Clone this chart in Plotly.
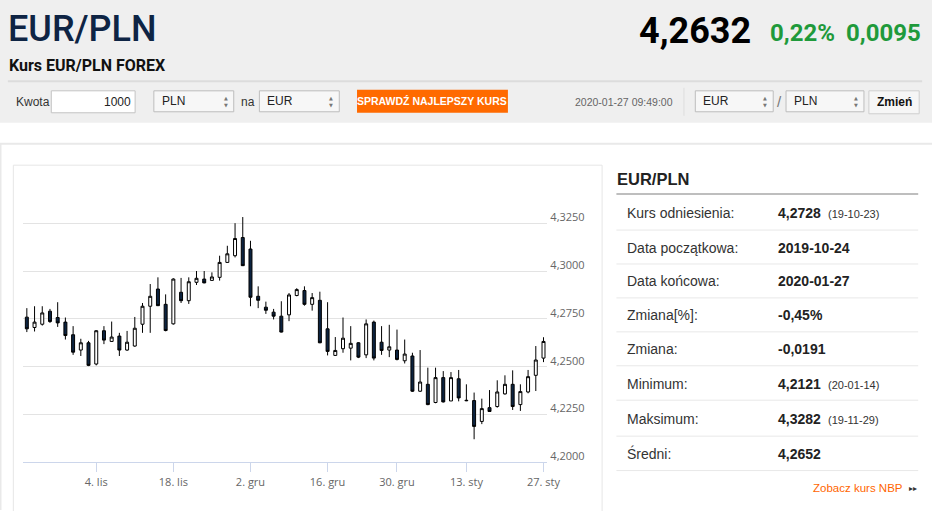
import plotly.graph_objects as go

W, H = 945, 511

# trading days shown on the chart
dates = [
    '2019-10-22', '2019-10-23', '2019-10-24', '2019-10-25', '2019-10-28', '2019-10-29',
    '2019-10-30', '2019-10-31', '2019-11-01',
    '2019-11-04', '2019-11-05', '2019-11-06', '2019-11-07', '2019-11-08', '2019-11-11',
    '2019-11-12', '2019-11-13', '2019-11-14', '2019-11-15', '2019-11-18', '2019-11-19',
    '2019-11-20', '2019-11-21', '2019-11-22', '2019-11-25', '2019-11-26', '2019-11-27',
    '2019-11-28', '2019-11-29',
    '2019-12-02', '2019-12-03', '2019-12-04', '2019-12-05', '2019-12-06', '2019-12-09',
    '2019-12-10', '2019-12-11', '2019-12-12', '2019-12-13', '2019-12-16', '2019-12-17',
    '2019-12-18', '2019-12-19', '2019-12-20', '2019-12-23', '2019-12-24', '2019-12-26',
    '2019-12-27', '2019-12-30', '2019-12-31',
    '2020-01-02', '2020-01-03', '2020-01-06', '2020-01-07', '2020-01-08', '2020-01-09',
    '2020-01-10', '2020-01-13', '2020-01-14', '2020-01-15', '2020-01-16', '2020-01-17',
    '2020-01-20', '2020-01-21', '2020-01-22', '2020-01-23', '2020-01-24', '2020-01-27',
]

opens = [
    4.2759, 4.2705, 4.2722, 4.2790, 4.2757, 4.2733, 4.2667, 4.2587, 4.2625, 4.2514,
    4.2688, 4.2632, 4.2660, 4.2587, 4.2608, 4.2722, 4.2816, 4.2906, 4.2826, 4.2724,
    4.2889, 4.2845, 4.2941, 4.2958, 4.2951, 4.2967, 4.3045, 4.3080, 4.3175, 4.3115,
    4.2868, 4.2811, 4.2785, 4.2764, 4.2771, 4.2872, 4.2898, 4.2826, 4.2847, 4.2698,
    4.2559, 4.2594, 4.2597, 4.2625, 4.2562, 4.2733, 4.2628, 4.2587, 4.2587, 4.2531,
    4.2556, 4.2372, 4.2408, 4.2313, 4.2443, 4.2321, 4.2437, 4.2322, 4.2323, 4.2214,
    4.2286, 4.2292, 4.2358, 4.2408, 4.2302, 4.2368, 4.2455, 4.2545,
]
highs = [
    4.2806, 4.2816, 4.2816, 4.2802, 4.2837, 4.2757, 4.2712, 4.2646, 4.2635, 4.2691,
    4.2712, 4.2736, 4.2677, 4.2687, 4.2760, 4.2833, 4.2932, 4.2967, 4.2878, 4.2962,
    4.2964, 4.2967, 4.3000, 4.3000, 4.2993, 4.3080, 4.3132, 4.3250, 4.3282, 4.3158,
    4.2920, 4.2840, 4.2802, 4.2842, 4.2885, 4.2910, 4.2920, 4.2885, 4.2892, 4.2837,
    4.2655, 4.2757, 4.2712, 4.2628, 4.2747, 4.2741, 4.2712, 4.2719, 4.2694, 4.2642,
    4.2573, 4.2587, 4.2495, 4.2495, 4.2477, 4.2472, 4.2483, 4.2408, 4.2365, 4.2333,
    4.2378, 4.2429, 4.2455, 4.2481, 4.2408, 4.2483, 4.2608, 4.2654,
]
lows = [
    4.2681, 4.2684, 4.2715, 4.2729, 4.2708, 4.2642, 4.2562, 4.2556, 4.2503, 4.2507,
    4.2618, 4.2630, 4.2556, 4.2583, 4.2604, 4.2677, 4.2677, 4.2817, 4.2685, 4.2720,
    4.2833, 4.2828, 4.2927, 4.2936, 4.2950, 4.2950, 4.3042, 4.3071, 4.3026, 4.2816,
    4.2806, 4.2776, 4.2747, 4.2679, 4.2738, 4.2868, 4.2819, 4.2793, 4.2623, 4.2559,
    4.2556, 4.2573, 4.2533, 4.2545, 4.2545, 4.2533, 4.2562, 4.2550, 4.2533, 4.2517,
    4.2368, 4.2368, 4.2299, 4.2309, 4.2313, 4.2321, 4.2319, 4.2320, 4.2121, 4.2200,
    4.2264, 4.2286, 4.2354, 4.2274, 4.2269, 4.2361, 4.2373, 4.2524,
]
closes = [
    4.2698, 4.2733, 4.2781, 4.2736, 4.2729, 4.2663, 4.2576, 4.2625, 4.2507, 4.2688,
    4.2639, 4.2655, 4.2587, 4.2628, 4.2701, 4.2816, 4.2868, 4.2819, 4.2689, 4.2958,
    4.2845, 4.2944, 4.2962, 4.2938, 4.2969, 4.3045, 4.3090, 4.3170, 4.3028, 4.2863,
    4.2847, 4.2795, 4.2764, 4.2681, 4.2875, 4.2903, 4.2826, 4.2861, 4.2625, 4.2580,
    4.2585, 4.2649, 4.2622, 4.2550, 4.2724, 4.2545, 4.2585, 4.2604, 4.2538, 4.2566,
    4.2372, 4.2420, 4.2302, 4.2443, 4.2316, 4.2443, 4.2337, 4.2324, 4.2188, 4.2281,
    4.2266, 4.2368, 4.2408, 4.2292, 4.2370, 4.2448, 4.2535, 4.2632,
]

tick_dates = ['2019-11-04', '2019-11-18', '2019-12-02', '2019-12-16',
              '2019-12-30', '2020-01-13', '2020-01-27']
tick_labels = ['4. lis', '18. lis', '2. gru', '16. gru', '30. gru', '13. sty', '27. sty']
price_ticks = [4.2, 4.225, 4.25, 4.275, 4.3, 4.325, 4.35]
price_labels = ['4,2000', '4,2250', '4,2500', '4,2750', '4,3000', '4,3250', '']

stat_labels = ['Kurs odniesienia:', 'Data początkowa:', 'Data końcowa:', 'Zmiana[%]:',
               'Zmiana:', 'Minimum:', 'Maksimum:', 'Średni:']
stat_values = ['4,2728', '2019-10-24', '2020-01-27', '-0,45%',
               '-0,0191', '4,2121', '4,3282', '4,2652']
stat_notes = ['(19-10-23)', '', '', '', '', '(20-01-14)', '(19-11-29)', '']


def px(x):
    return x / W


def py(y):
    return 1 - y / H


shapes = []
annotations = []


def rect(x0, y0, x1, y1, fill='rgba(0,0,0,0)', line='rgba(0,0,0,0)', lw=1):
    shapes.append(dict(type='rect', xref='paper', yref='paper', layer='below',
                       x0=px(x0), x1=px(x1), y0=py(y0), y1=py(y1),
                       fillcolor=fill, line=dict(color=line, width=lw)))


def hline(x0, x1, y, color, lw=1):
    shapes.append(dict(type='line', xref='paper', yref='paper', layer='below',
                       x0=px(x0), x1=px(x1), y0=py(y), y1=py(y),
                       line=dict(color=color, width=lw)))


def vline(x, y0, y1, color, lw=1):
    shapes.append(dict(type='line', xref='paper', yref='paper', layer='below',
                       x0=px(x), x1=px(x), y0=py(y0), y1=py(y1),
                       line=dict(color=color, width=lw)))


def text(x, y, s, size, color='#333333', bold=False, anchor='left',
         family='Liberation Sans, Arial, sans-serif', weight=None):
    font = dict(size=size, color=color, family=family)
    if weight:
        font['weight'] = weight
    annotations.append(dict(xref='paper', yref='paper', x=px(x), y=py(y),
                            text='<b>%s</b>' % s if bold else s, showarrow=False,
                            xanchor=anchor, yanchor='middle', borderpad=0,
                            font=font))


def select_box(x0, x1, label):
    rect(x0, 91, x1, 112, fill='#f7f7f7', line='#bdbdbd')
    text(x0 + 7, 101.5, label, 12, '#222222')
    text(x1 - 8, 98.5, '▲', 5, '#777777', anchor='center', family='DejaVu Sans')
    text(x1 - 8, 105, '▼', 5, '#777777', anchor='center', family='DejaVu Sans')


# header background
rect(0, 0, W, 123, fill='#efefef')
hline(8, 935, 81.5, '#dcdcdc', 2)

text(7, 29, 'EUR/PLN', 36, '#0e2444', family='Roboto, Liberation Sans, sans-serif', weight=500)
text(762, 31, '4,2632', 36, '#000000', bold=True, anchor='right',
     family='Roboto, Liberation Sans, sans-serif')
text(848, 33, '0,22%', 24, '#1f9a3b', bold=True, anchor='right',
     family='Roboto, Liberation Sans, sans-serif')
text(935, 33, '0,0095', 24, '#1f9a3b', bold=True, anchor='right',
     family='Roboto, Liberation Sans, sans-serif')
text(8, 66, 'Kurs EUR/PLN FOREX', 16, '#111111', bold=True,
     family='Roboto, Liberation Sans, sans-serif')

# converter form
text(15, 102, 'Kwota', 12, '#333333')
rect(52, 91, 137, 113, fill='#ffffff', line='#c4c4c4')
text(134, 102, '1000', 12, '#222222', anchor='right')
select_box(156, 237, 'PLN')
text(243, 102, 'na', 12, '#333333')
select_box(263, 344, 'EUR')
rect(362, 90, 515, 113, fill='#ff6a00')
text(438.5, 101.5, 'SPRAWDŹ NAJLEPSZY KURS', 10.5, '#ffffff', bold=True, anchor='center')
text(582, 102.5, '2020-01-27 09:49:00', 10.5, '#666666')
vline(693.5, 88, 116, '#dddddd')
select_box(705, 784, 'EUR')
text(790.5, 102, '/', 15, '#777777', anchor='center')
select_box(797, 876, 'PLN')
rect(881, 91, 932, 114, fill='#f6f6f6', line='#cfcfcf')
text(906.5, 102.5, 'Zmień', 12, '#111111', bold=True, anchor='center')

# content panel
hline(0, W, 144, '#e9e9e9', 2)
vline(0.75, 144, H, '#e9e9e9', 1.5)
rect(13.5, 165.5, 610.5, 540, line='#e6e6e6')

# statistics table
text(625, 179, 'EUR/PLN', 16.5, '#222222', bold=True)
hline(625, 931, 194.5, '#a8a8a8', 1.5)
row_lines = [230.5, 264.5, 298.5, 332.5, 366.5, 401, 437, 471.5]
row_mid = [213, 248, 282, 316, 350, 384.5, 419.5, 454.5]
for label, value, note, ym, yl in zip(stat_labels, stat_values, stat_notes, row_mid, row_lines):
    text(635, ym, label, 14, '#333333')
    text(788, ym, value, 14, '#222222', bold=True)
    if note:
        text(839, ym + 1, note, 11, '#333333')
    hline(625, 931, yl, '#e8e8e8', 1)
text(917, 488.5, 'Zobacz kurs NBP', 11.5, '#ff6600', anchor='right')
text(925.5, 489, '▸▸', 8, '#333333', anchor='center', family='DejaVu Sans')

fig = go.Figure()
fig.add_trace(go.Candlestick(
    x=dates, open=opens, high=highs, low=lows, close=closes,
    increasing=dict(line=dict(color='#000000', width=1), fillcolor='#ffffff'),
    decreasing=dict(line=dict(color='#000000', width=1), fillcolor='#0c2340'),
    whiskerwidth=0, showlegend=False, name='EUR/PLN'))

fig.update_layout(
    width=W, height=H,
    margin=dict(l=0, r=0, t=0, b=0),
    paper_bgcolor='#ffffff', plot_bgcolor='rgba(0,0,0,0)',
    font=dict(family='Liberation Sans, Arial, sans-serif'),
    boxgap=0.45,
    shapes=shapes, annotations=annotations,
    xaxis=dict(type='category', domain=[px(23.3), px(555)], range=[-0.5, len(dates) - 0.5],
               tickmode='array', tickvals=tick_dates, ticktext=tick_labels,
               ticks='outside', ticklen=9, tickcolor='#ccd6eb', tickwidth=1,
               showline=True, linecolor='#ccd6eb', linewidth=1, showgrid=False,
               rangeslider=dict(visible=False),
               tickfont=dict(size=11, color='#666666', family='Open Sans, DejaVu Sans, sans-serif')),
    yaxis=dict(domain=[py(463.3), py(175.3)], range=[4.2, 4.3502], side='right',
               tickmode='array', tickvals=price_ticks, ticktext=price_labels,
               showgrid=True, gridcolor='#e3e3e3', gridwidth=1, zeroline=False,
               showline=False, ticks='', ticklabelshift=-6, ticklabelstandoff=2,
               tickfont=dict(size=11, color='#666666', family='Open Sans, DejaVu Sans, sans-serif')),
)

# the page body has a default margin and may scroll; pin the figure to the window corner
page_css = ("document.documentElement.style.overflow='hidden';"
            "document.body.style.margin='0';"
            "document.body.style.overflow='hidden';")
fig.write_html('out.html', post_script=page_css,
               config={'displayModeBar': False, 'responsive': False})
